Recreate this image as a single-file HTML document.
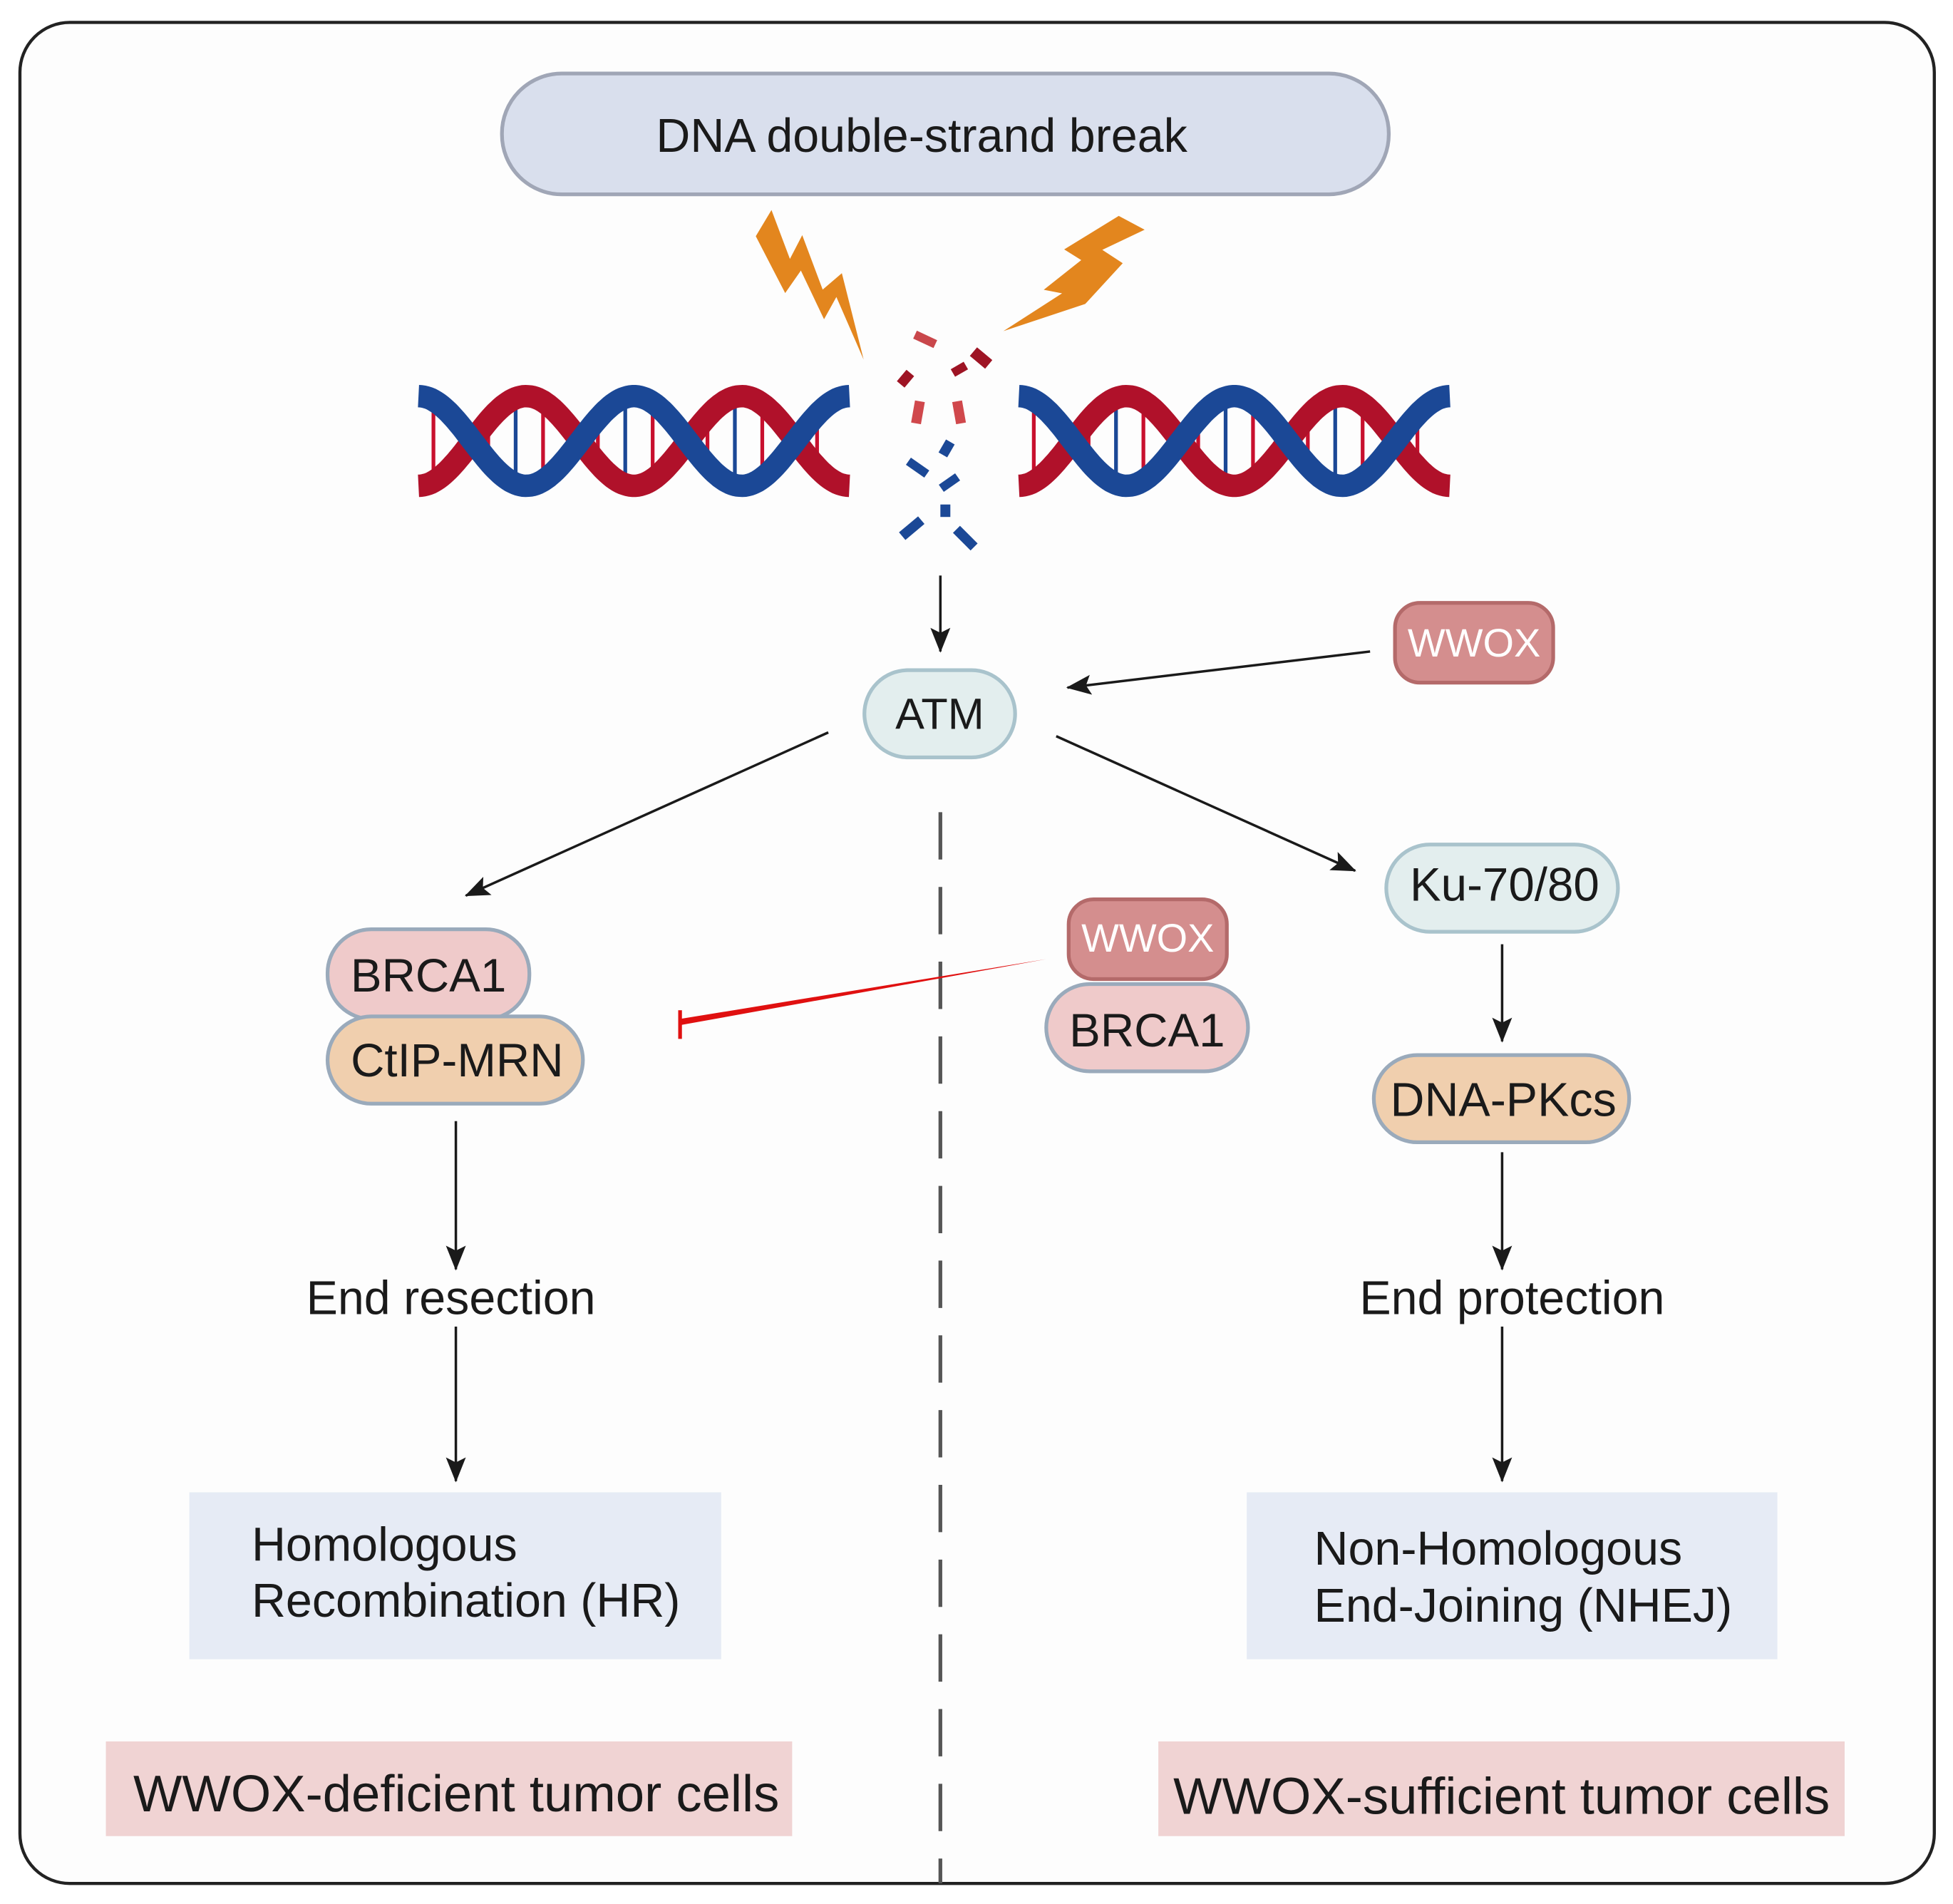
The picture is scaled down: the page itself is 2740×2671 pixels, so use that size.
<!DOCTYPE html>
<html><head><meta charset="utf-8"><style>
html,body{margin:0;padding:0;background:#fff;}
svg{display:block;}
text{font-family:"Liberation Sans",Arial,sans-serif;}
</style></head><body>
<svg id="s" width="2740" height="2671" viewBox="0 0 1568 1528.5" xmlns="http://www.w3.org/2000/svg">
<defs>
<marker id="ah" viewBox="0 0 20 20" refX="19" refY="10" markerWidth="20" markerHeight="20" orient="auto" markerUnits="userSpaceOnUse">
<path d="M0,2 L20,10 L0,18 L4,10 z" fill="#1a1a1a"/></marker>
</defs>
<rect x="0" y="0" width="1568" height="1529" fill="#fff"/>
<rect x="16" y="18" width="1537" height="1494" rx="40" fill="#fdfdfd" stroke="#222" stroke-width="2.5"/>

<rect x="403" y="59" width="712" height="97" rx="48" fill="#d9dfed" stroke="#a0a6b6" stroke-width="3"/>
<text x="740" y="122" font-size="38" text-anchor="middle" fill="#1a1a1a">DNA double-strand break</text>

<polygon fill="#e3861e" points="619.4,168.6 606.8,189.6 630.4,235.3 643,217.2 661.6,256.3 671.5,238.4 693.4,288.7 675.9,219.3 660.5,232.5 644.1,188.8 634.2,207.9"/>
<polygon fill="#e3861e" points="898.2,173.3 919,184.4 885,200.6 901.4,211.3 871.3,244 805.6,265.8 852.7,235.5 838,232.6 868.1,208.8 854.4,200.2"/>

<g id="dna"></g>

<g>
<rect x="734" y="269" width="18" height="7" fill="#c9474b" transform="rotate(25 743 272)"/>
<rect x="780" y="283" width="16" height="9" fill="#9e1424" transform="rotate(40 788 287)"/>
<rect x="764" y="293" width="12" height="7" fill="#9e1424" transform="rotate(-30 770 296)"/>
<rect x="721" y="300" width="12" height="8" fill="#9e1424" transform="rotate(-50 727 304)"/>
<rect x="733" y="322" width="8" height="18" fill="#d0484c" transform="rotate(10 737 331)"/>
<rect x="766" y="322" width="8" height="18" fill="#d0484c" transform="rotate(-10 770 331)"/>
<rect x="756" y="354" width="8" height="12" fill="#1b4896" transform="rotate(30 760 360)"/>
<rect x="728" y="372" width="18" height="7" fill="#1b4896" transform="rotate(35 737 375)"/>
<rect x="754" y="384" width="16" height="7" fill="#1b4896" transform="rotate(-35 762 387)"/>
<rect x="755" y="405" width="8" height="10" fill="#1b4896"/>
<rect x="722" y="420" width="20" height="8" fill="#1b4896" transform="rotate(-40 732 424)"/>
<rect x="765" y="428" width="20" height="8" fill="#1b4896" transform="rotate(45 775 432)"/>
</g>

<line x1="755" y1="462" x2="755" y2="523" stroke="#1a1a1a" stroke-width="2" marker-end="url(#ah)"/>

<rect x="694" y="538" width="121" height="70" rx="35" fill="#e3eeee" stroke="#a9c3cc" stroke-width="3"/>
<text x="754.5" y="585" font-size="35" text-anchor="middle" fill="#1a1a1a">ATM</text>

<rect x="1120" y="484" width="127" height="64" rx="20" fill="#d48e8e" stroke="#b46a6a" stroke-width="3"/>
<text x="1183.5" y="527" font-size="32" text-anchor="middle" fill="#fff">WWOX</text>

<line x1="1100" y1="523" x2="857" y2="552" stroke="#1a1a1a" stroke-width="2" marker-end="url(#ah)"/>
<line x1="665" y1="588" x2="374" y2="719" stroke="#1a1a1a" stroke-width="2" marker-end="url(#ah)"/>
<line x1="848" y1="591" x2="1088" y2="699" stroke="#1a1a1a" stroke-width="2" marker-end="url(#ah)"/>

<line x1="755" y1="652" x2="755" y2="1512" stroke="#555" stroke-width="3" stroke-dasharray="38 22"/>

<rect x="1113" y="678" width="186" height="70" rx="35" fill="#e3eeee" stroke="#a9c3cc" stroke-width="3"/>
<text x="1208" y="723" font-size="37.5" text-anchor="middle" fill="#1a1a1a">Ku-70/80</text>

<rect x="263" y="746" width="162" height="72" rx="35" fill="#efcaca" stroke="#9aaabb" stroke-width="3"/>
<text x="344" y="796" font-size="37.5" text-anchor="middle" fill="#1a1a1a">BRCA1</text>
<rect x="263" y="816" width="205" height="70" rx="35" fill="#f0cfae" stroke="#9aaabb" stroke-width="3"/>
<text x="367" y="864" font-size="37.5" text-anchor="middle" fill="#1a1a1a">CtIP-MRN</text>

<rect x="840" y="790" width="162" height="70" rx="35" fill="#efcaca" stroke="#9aaabb" stroke-width="3"/>
<text x="921" y="840" font-size="37.5" text-anchor="middle" fill="#1a1a1a">BRCA1</text>
<rect x="858" y="722" width="127" height="64" rx="20" fill="#d48e8e" stroke="#b46a6a" stroke-width="3"/>
<text x="921.5" y="764" font-size="32" text-anchor="middle" fill="#fff">WWOX</text>

<polygon points="840,770 546,818 546,823" fill="#e01010"/>
<line x1="546" y1="811" x2="546" y2="834" stroke="#e01010" stroke-width="3"/>

<rect x="1103" y="847" width="205" height="70" rx="35" fill="#f0cfae" stroke="#9aaabb" stroke-width="3"/>
<text x="1207" y="896" font-size="38" text-anchor="middle" fill="#1a1a1a">DNA-PKcs</text>

<line x1="1206" y1="758" x2="1206" y2="836" stroke="#1a1a1a" stroke-width="2" marker-end="url(#ah)"/>
<line x1="366" y1="900" x2="366" y2="1019" stroke="#1a1a1a" stroke-width="2" marker-end="url(#ah)"/>
<line x1="1206" y1="925" x2="1206" y2="1019" stroke="#1a1a1a" stroke-width="2" marker-end="url(#ah)"/>
<line x1="366" y1="1065" x2="366" y2="1189" stroke="#1a1a1a" stroke-width="2" marker-end="url(#ah)"/>
<line x1="1206" y1="1065" x2="1206" y2="1189" stroke="#1a1a1a" stroke-width="2" marker-end="url(#ah)"/>

<text x="362" y="1055" font-size="38" text-anchor="middle" fill="#1a1a1a">End resection</text>
<text x="1214" y="1055" font-size="38" text-anchor="middle" fill="#1a1a1a">End protection</text>

<rect x="152" y="1198" width="427" height="134" fill="#e6ebf5"/>
<text x="202" y="1253" font-size="38" fill="#1a1a1a">Homologous</text>
<text x="202" y="1298" font-size="38" fill="#1a1a1a">Recombination (HR)</text>

<rect x="1001" y="1198" width="426" height="134" fill="#e6ebf5"/>
<text x="1055" y="1256" font-size="38" fill="#1a1a1a">Non-Homologous</text>
<text x="1055" y="1302" font-size="38" fill="#1a1a1a">End-Joining (NHEJ)</text>

<rect x="85" y="1398" width="551" height="76" fill="#f0d3d3"/>
<text x="107" y="1454" font-size="41.5" fill="#1a1a1a">WWOX-deficient tumor cells</text>
<rect x="930" y="1398" width="551" height="76" fill="#f0d3d3"/>
<text x="942" y="1456" font-size="41.5" fill="#1a1a1a">WWOX-sufficient tumor cells</text>
</svg>
<script>
(function(){
var g=document.getElementById('dna'),NS='http://www.w3.org/2000/svg';
function helix(x0,x1){
  var P=(x1-x0)/2,A=36,cy=354;
  for(var x=x0+12;x<x1-5;x+=22){
    var ph=2*Math.PI*(x-x0)/P;var y1=cy-A*Math.cos(ph),y2=cy+A*Math.cos(ph);
    var l=document.createElementNS(NS,'line');
    l.setAttribute('x1',x);l.setAttribute('x2',x);
    l.setAttribute('y1',Math.min(y1,y2));l.setAttribute('y2',Math.max(y1,y2));
    l.setAttribute('stroke',(Math.round((x-x0)/22)%2)?'#c8102e':'#1b4896');l.setAttribute('stroke-width','3');
    g.appendChild(l);
  }
  function path(sign,col){
    var d='';
    for(var x=x0;x<=x1;x+=2){var y=cy-sign*A*Math.cos(2*Math.PI*(x-x0)/P);d+=(x==x0?'M':'L')+x+','+y.toFixed(1);}
    var p=document.createElementNS(NS,'path');p.setAttribute('d',d);p.setAttribute('fill','none');
    p.setAttribute('stroke',col);p.setAttribute('stroke-width','18');g.appendChild(p);
  }
  path(-1,'#b0112a');path(1,'#1b4896');
}
helix(336,682);helix(818,1164);
})();
</script>
</body></html>
